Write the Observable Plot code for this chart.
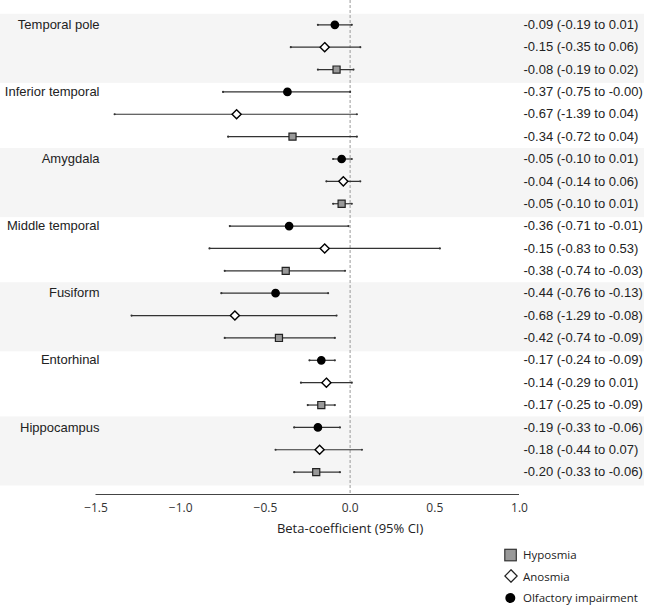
<!DOCTYPE html>
<html>
<head>
<meta charset="utf-8">
<script src="https://cdn.jsdelivr.net/npm/d3@7"></script>
<script src="https://cdn.jsdelivr.net/npm/@observablehq/plot@0.6"></script>
<style>
  body { margin: 0; background: white; }
  g[aria-label="x-axis tick label"] { font-family: "Open Sans", sans-serif; font-size: 12px; fill: #333; }
  #legend { margin-left: 504px; padding-top: 4px; font-family: "Open Sans", sans-serif; font-size: 11.5px; color: #222; }
  #legend .item { height: 21.5px; display: flex; align-items: center; white-space: nowrap; }
  #legend svg { display: block; flex: none; }
  #legend span { margin-left: 5px; }
</style>
</head>
<body>
<div id="chart"></div>
<div id="legend"></div>
<script>
const groups = ["Temporal pole", "Inferior temporal", "Amygdala", "Middle temporal", "Fusiform", "Entorhinal", "Hippocampus"];
const series = ["Olfactory impairment", "Anosmia", "Hyposmia"];

// Olfactory impairment
const estOlf = [-0.09, -0.37, -0.05, -0.36, -0.44, -0.17, -0.19];
const loOlf  = [-0.19, -0.75, -0.10, -0.71, -0.76, -0.24, -0.33];
const hiOlf  = [ 0.01, -0.00,  0.01, -0.01, -0.13, -0.09, -0.06];
// Anosmia
const estAno = [-0.15, -0.67, -0.04, -0.15, -0.68, -0.14, -0.18];
const loAno  = [-0.35, -1.39, -0.14, -0.83, -1.29, -0.29, -0.44];
const hiAno  = [ 0.06,  0.04,  0.06,  0.53, -0.08,  0.01,  0.07];
// Hyposmia
const estHyp = [-0.08, -0.34, -0.05, -0.38, -0.42, -0.17, -0.20];
const loHyp  = [-0.19, -0.72, -0.10, -0.74, -0.74, -0.25, -0.33];
const hiHyp  = [ 0.02,  0.04,  0.01, -0.03, -0.09, -0.09, -0.06];

const xTicks = [-1.5, -1.0, -0.5, 0.0, 0.5, 1.0];
const refLine = [0];
const axisLabel = "Beta-coefficient (95% CI)";

const est = [estOlf, estAno, estHyp];
const lo = [loOlf, loAno, loHyp];
const hi = [hiOlf, hiAno, hiHyp];

const fmt = v => ((v < 0 || Object.is(v, -0)) ? "-" : "") + Math.abs(v).toFixed(2);

const rows = [];
groups.forEach((g, i) => series.forEach((s, j) => {
  rows.push({group: g, series: s, row: i * 3 + j, est: est[j][i], lo: lo[j][i], hi: hi[j][i]});
}));
rows.forEach(d => d.label = `${fmt(d.est)} (${fmt(d.lo)} to ${fmt(d.hi)})`);
const nRows = rows.length;
const groupRows = groups.map((g, i) => ({group: g, row: i * 3}));
const bands = groups.map((g, i) => ({i, y1: i * 3 - 0.47, y2: i * 3 + 2.62})).filter(d => d.i % 2 === 0);

const xMin = xTicks[0], xMax = xTicks[xTicks.length - 1];

const chart = Plot.plot({
  width: 653,
  height: 540,
  marginLeft: 0,
  marginRight: 9,
  marginTop: 0,
  marginBottom: 46,
  style: {fontFamily: "'Liberation Sans', Arial, sans-serif", fontSize: "13px", background: "white", color: "#222"},
  x: {domain: [xMin, xMax], range: [95.5, 519]},
  y: {domain: [0, nRows], range: [24.3, 494], axis: null},
  marks: [
    Plot.rect(bands, {y1: "y1", y2: "y2", fill: "#f5f5f5"}),
    Plot.ruleX(refLine, {stroke: "#999", strokeDasharray: "3,2", strokeWidth: 1}),
    Plot.ruleY([nRows], {x1: xMin, x2: xMax, stroke: "#444", strokeWidth: 1.2}),
    Plot.ruleY(rows, {y: "row", x1: "lo", x2: "hi", stroke: "#333", strokeWidth: 1.2}),
    Plot.dot(rows, {y: "row", x: "lo", r: 1.1, fill: "#333", stroke: null}),
    Plot.dot(rows, {y: "row", x: "hi", r: 1.1, fill: "#333", stroke: null}),
    Plot.dot(rows.filter(d => d.series === "Olfactory impairment"), {y: "row", x: "est", r: 3.6, symbol: "circle", fill: "black", stroke: "black"}),
    Plot.dot(rows.filter(d => d.series === "Anosmia"), {y: "row", x: "est", r: 4.1, symbol: "diamond2", fill: "white", stroke: "black", strokeWidth: 1.4}),
    Plot.dot(rows.filter(d => d.series === "Hyposmia"), {y: "row", x: "est", r: 4.0, symbol: "square", fill: "#999", stroke: "#222", strokeWidth: 1.2}),
    Plot.text(rows, {y: "row", x: xMax, dx: 4, text: "label", textAnchor: "start", fill: "#222"}),
    Plot.text(groupRows, {y: "row", frameAnchor: "left", dx: 99, text: "group", textAnchor: "end", fill: "#222"}),
    Plot.axisX({ticks: xTicks, tickFormat: d3.format(".1f"), tickSize: 0, tickPadding: 9, label: null}),
    Plot.text([axisLabel], {x: refLine[0], frameAnchor: "bottom", dy: 38, text: d => d, fontFamily: "'Open Sans', sans-serif", fontSize: 13, fill: "#222"})
  ]
});
document.getElementById("chart").append(chart);

// Legend (order: Hyposmia, Anosmia, Olfactory impairment)
const legendShapes = {
  "Hyposmia": '<rect x="0.8" y="1.3" width="11.5" height="11.5" fill="#999" stroke="#333" stroke-width="1.2"/>',
  "Anosmia": '<path d="M7 0.8 L13.2 7 L7 13.2 L0.8 7 Z" fill="white" stroke="#222" stroke-width="1.3"/>',
  "Olfactory impairment": '<circle cx="6.3" cy="7" r="5" fill="black"/>'
};
const legend = document.getElementById("legend");
series.slice().reverse().forEach(s => {
  const item = document.createElement("div");
  item.className = "item";
  item.innerHTML = `<svg width="14" height="14" viewBox="0 0 14 14">${legendShapes[s]}</svg><span>${s}</span>`;
  legend.append(item);
});
</script>
</body>
</html>
